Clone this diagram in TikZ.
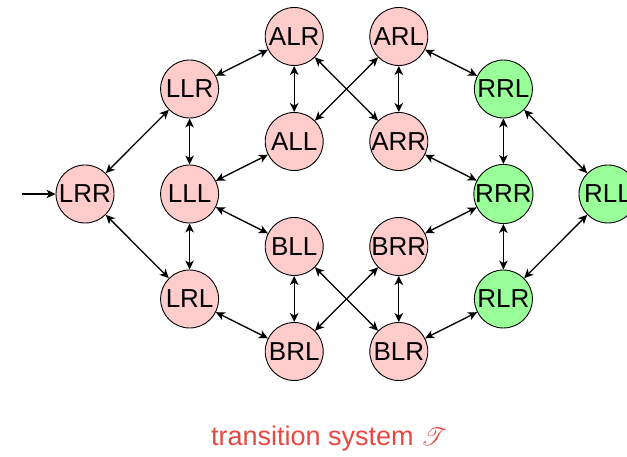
\documentclass[tikz,border=0pt]{standalone}
\usepackage{fontspec}
\setmainfont{Liberation Sans}
\usepackage{mathrsfs}
\usetikzlibrary{arrows.meta}
\definecolor{pinkfill}{RGB}{255,204,204}
\definecolor{greenfill}{RGB}{153,255,153}
\definecolor{labelred}{RGB}{232,72,64}
\tikzset{
  st/.style={circle, draw=black, line width=0.9pt, minimum size=58pt, inner sep=0pt, font=\fontsize{26}{28}\selectfont},
  pk/.style={st, fill=pinkfill},
  gr/.style={st, fill=greenfill},
  tip/.tip={Stealth[length=9pt,width=8.5pt,inset=2.5pt]},
  tr/.style={tip-tip, line width=1.3pt},
  inarr/.style={-tip, line width=1.3pt}
}
\begin{document}
\begin{tikzpicture}[x=1pt,y=-1pt]
\useasboundingbox (0,0) rectangle (627,457);
\node[pk] (LRR) at (85,194) {LRR};
\node[pk] (LLR) at (189.6,89) {LLR};
\node[pk] (LLL) at (189.6,194) {LLL};
\node[pk] (LRL) at (189.6,299) {LRL};
\node[pk] (ALR) at (294.2,36.5) {ALR};
\node[pk] (ALL) at (294.2,141.5) {ALL};
\node[pk] (BLL) at (294.2,246.5) {BLL};
\node[pk] (BRL) at (294.2,351.5) {BRL};
\node[pk] (ARL) at (398.8,36.5) {ARL};
\node[pk] (ARR) at (398.8,141.5) {ARR};
\node[pk] (BRR) at (398.8,246.5) {BRR};
\node[pk] (BLR) at (398.8,351.5) {BLR};
\node[gr] (RRL) at (503.4,89) {RRL};
\node[gr] (RRR) at (503.4,194) {RRR};
\node[gr] (RLR) at (503.4,299) {RLR};
\node[gr] (RLL) at (608,194) {RLL};
\coordinate (in) at (22,194);
\draw[inarr] (in) -- (LRR);
\draw[tr] (LRR) -- (LLR);
\draw[tr] (LRR) -- (LRL);
\draw[tr] (LLR) -- (LLL);
\draw[tr] (LLL) -- (LRL);
\draw[tr] (LLR) -- (ALR);
\draw[tr] (LLL) -- (ALL);
\draw[tr] (LLL) -- (BLL);
\draw[tr] (LRL) -- (BRL);
\draw[tr] (ALR) -- (ALL);
\draw[tr] (ALR) -- (ARR);
\draw[tr] (ARL) -- (ALL);
\draw[tr] (ARL) -- (ARR);
\draw[tr] (BLL) -- (BRL);
\draw[tr] (BLL) -- (BLR);
\draw[tr] (BRR) -- (BRL);
\draw[tr] (BRR) -- (BLR);
\draw[tr] (ARL) -- (RRL);
\draw[tr] (ARR) -- (RRR);
\draw[tr] (BRR) -- (RRR);
\draw[tr] (BLR) -- (RLR);
\draw[tr] (RRL) -- (RRR);
\draw[tr] (RRR) -- (RLR);
\draw[tr] (RRL) -- (RLL);
\draw[tr] (RLR) -- (RLL);
\node[text=labelred, font=\fontsize{27}{29}\selectfont] (lbl) at (329,439) {transition system $\mathscr{T}$};
\end{tikzpicture}
\end{document}
